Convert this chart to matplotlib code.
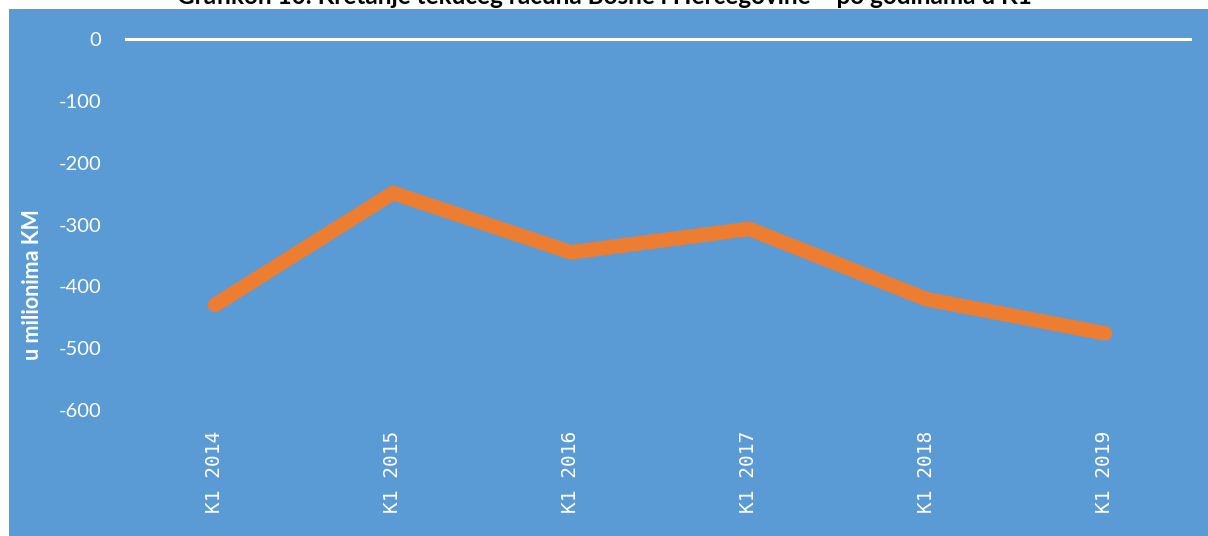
import matplotlib.pyplot as plt
from matplotlib.patches import Rectangle

# data
CATEGORIES = ["K1 2014", "K1 2015", "K1 2016", "K1 2017", "K1 2018", "K1 2019"]
VALUES = [-430, -249, -345, -307, -421, -476]
Y_TICKS = [0, -100, -200, -300, -400, -500, -600]

TITLE = "Grafikon 10: Kretanje tekućeg računa Bosne i Hercegovine – po godinama u K1"
Y_LABEL = "u milionima KM"

BG_BLUE = "#5B9BD5"
LINE_ORANGE = "#ED7D31"

W, H = 1208, 536

fig = plt.figure(figsize=(W / 100, H / 100), dpi=100)
fig.patch.set_facecolor("white")

# blue chart area
fig.patches.append(Rectangle((9 / W, 0), 1 - 9 / W, 1 - 9 / H,
                             transform=fig.transFigure, facecolor=BG_BLUE,
                             edgecolor="none", zorder=-5))

# title, cut off at the top edge like the reference
fig.text(604 / W, 1 - 4 / H, TITLE, ha="center", va="baseline",
         fontsize=17.5, fontweight="bold", family="Lato", color="black")

left, right = 126 / W, 1194 / W
top, bottom = 1 - 39 / H, 1 - 410 / H
ax = fig.add_axes([left, bottom, right - left, top - bottom])
ax.set_facecolor("none")

x = list(range(len(CATEGORIES)))
ax.plot(x, VALUES, color=LINE_ORANGE, linewidth=10.5,
        solid_capstyle="round", solid_joinstyle="round", zorder=3)
ax.plot([-0.5, 5.5 - 0.02], [0, 0], color="white", linewidth=2.2,
        clip_on=False, zorder=2)

ax.set_xlim(-0.5, 5.5)
ax.set_ylim(-600, 0)
ax.set_yticks(Y_TICKS)
ax.set_yticklabels([str(v) for v in Y_TICKS], family="Lato", fontsize=14.5,
                   color="white")
ax.set_xticks(x)
ax.set_xticklabels(CATEGORIES, rotation=90, family="DejaVu Sans Mono",
                   fontsize=14, color="white")
ax.tick_params(axis="y", length=0, pad=18)
ax.tick_params(axis="x", length=0, pad=15)
for spine in ax.spines.values():
    spine.set_visible(False)

fig.text(33 / W, 1 - 285 / H, Y_LABEL, rotation=90, ha="center", va="center",
         fontsize=15.5, fontweight="bold", family="Lato", color="white")

fig.savefig("out.png", dpi=100)
